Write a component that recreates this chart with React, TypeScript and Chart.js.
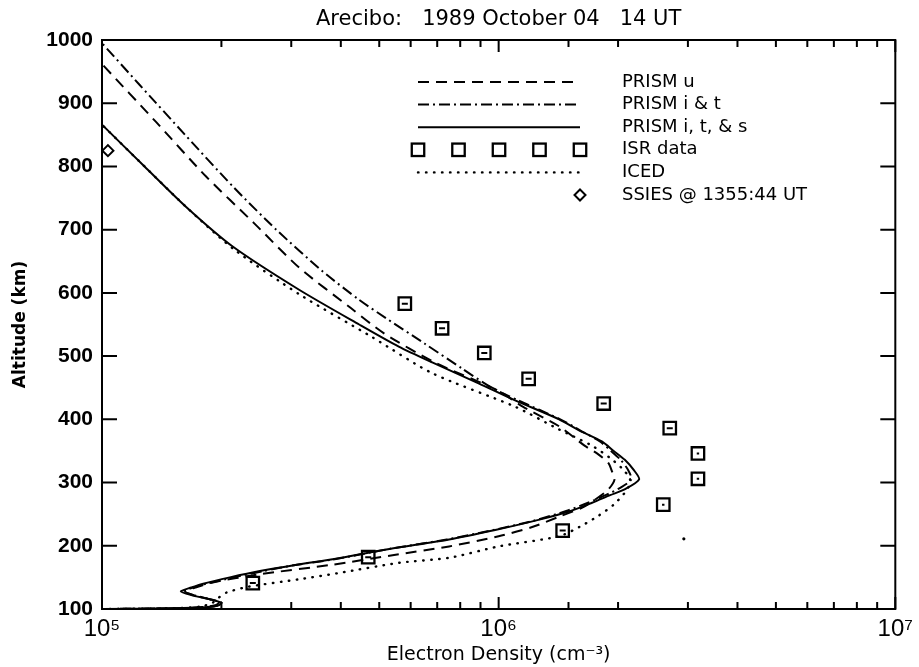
import { useEffect, useRef } from 'react';
import { Chart, registerables } from 'chart.js';

Chart.register(...registerables);

// ---- Data (altitude in km, electron density in cm^-3) ----
const prismUAltitude = [100, 101, 103, 106, 110, 116, 122, 128, 134, 142, 155, 170, 185, 199, 215, 230, 246, 260, 273, 289, 305, 318, 331, 345, 358, 389, 420, 445, 490, 536, 576, 640, 710, 784, 870, 962];
const prismUDensity = [1.0e5, 1.45e5, 1.8e5, 1.93e5, 1.97e5, 1.85e5, 1.7e5, 1.62e5, 1.72e5, 1.9e5, 2.5e5, 3.8e5, 5.4e5, 7.5e5, 1.0e6, 1.22e6, 1.42e6, 1.62e6, 1.75e6, 1.89e6, 1.96e6, 1.93e6, 1.89e6, 1.78e6, 1.65e6, 1.42e6, 1.15e6, 1.0e6, 6.9e5, 5.14e5, 4.24e5, 3.14e5, 2.42e5, 1.83e5, 1.37e5, 1.0e5];

const prismITAltitude = [100, 101, 103, 106, 110, 116, 122, 128, 134, 140, 150, 160, 170, 178, 195, 210, 225, 240, 255, 268, 280, 292, 305, 320, 336, 350, 365, 383, 400, 430, 450, 480, 520, 560, 589, 634, 700, 768, 850, 930, 995];
const prismITDensity = [1.0e5, 1.5e5, 1.85e5, 1.97e5, 2.0e5, 1.86e5, 1.7e5, 1.6e5, 1.7e5, 1.83e5, 2.15e5, 2.55e5, 3.1e5, 3.8e5, 5.3e5, 7.4e5, 9.7e5, 1.23e6, 1.48e6, 1.68e6, 1.86e6, 2.03e6, 2.16e6, 2.12e6, 2.03e6, 1.92e6, 1.8e6, 1.6e6, 1.43e6, 1.12e6, 9.6e5, 8.1e5, 6.5e5, 5.2e5, 4.45e5, 3.6e5, 2.75e5, 2.14e5, 1.62e5, 1.24e5, 1.0e5];

const prismITSAltitude = [100, 101, 103, 106, 110, 116, 122, 128, 134, 140, 150, 160, 170, 179, 195, 210, 225, 241, 255, 268, 280, 290, 305, 320, 336, 350, 365, 383, 400, 430, 457, 490, 515, 550, 605, 673, 736, 800, 866];
const prismITSDensity = [1.0e5, 1.5e5, 1.85e5, 1.97e5, 2.0e5, 1.85e5, 1.68e5, 1.58e5, 1.68e5, 1.8e5, 2.1e5, 2.5e5, 3.1e5, 3.85e5, 5.3e5, 7.5e5, 9.8e5, 1.26e6, 1.52e6, 1.72e6, 1.91e6, 2.09e6, 2.26e6, 2.19e6, 2.08e6, 1.95e6, 1.82e6, 1.59e6, 1.42e6, 1.1e6, 8.9e5, 6.8e5, 5.6e5, 4.45e5, 3.14e5, 2.14e5, 1.63e5, 1.28e5, 1.0e5];

const icedAltitude = [100, 101, 104, 110, 118, 126, 135, 147, 157, 173, 181, 199, 215, 230, 247, 265, 284, 297, 307, 322, 340, 360, 384, 420, 473, 530, 598, 670, 736, 800, 866];
const icedDensity = [1.0e5, 1.5e5, 1.78e5, 1.9e5, 1.97e5, 2.06e5, 2.33e5, 3.14e5, 3.96e5, 5.6e5, 7.5e5, 1.0e6, 1.42e6, 1.6e6, 1.78e6, 1.95e6, 2.08e6, 2.14e6, 2.14e6, 2.05e6, 1.9e6, 1.7e6, 1.42e6, 1.1e6, 6.8e5, 4.8e5, 3.14e5, 2.14e5, 1.63e5, 1.28e5, 1.0e5];

const isrAltitude = [141, 182, 224, 265, 306, 346, 386, 425, 464, 505, 544, 583];
const isrDensity = [2.4e5, 4.69e5, 1.45e6, 2.6e6, 3.18e6, 3.18e6, 2.7e6, 1.84e6, 1.19e6, 9.2e5, 7.2e5, 5.8e5];

const ssiesAltitude = [825];
const ssiesDensity = [1.035e5];

const strayAltitude = [211];
const strayDensity = [2.93e6];

const yTickValues = [100, 200, 300, 400, 500, 600, 700, 800, 900, 1000];
const titleText = 'Arecibo:   1989 October 04   14 UT';
const xTitleText = 'Electron Density (cm\u207B\u00B3)';
const yTitleText = 'Altitude (km)';
const legendOrder = ['PRISM u', 'PRISM i & t', 'PRISM i, t, & s', 'ISR data', 'ICED', 'SSIES @ 1355:44 UT'];

const SUP: Record<string, string> = { '0': '\u2070', '1': '\u00B9', '2': '\u00B2', '3': '\u00B3', '4': '\u2074', '5': '\u2075', '6': '\u2076', '7': '\u2077', '8': '\u2078', '9': '\u2079' };

const toPoints = (xs: number[], ys: number[]) => xs.map((x, i) => ({ x, y: ys[i] }));

const framePlugin = {
  id: 'frameTicksLegend',
  afterDatasetsDraw(chart: any) {
    const { ctx, chartArea: a, scales } = chart;
    const xs = scales.x;
    const ys = scales.y;
    ctx.save();
    ctx.strokeStyle = '#000';
    ctx.fillStyle = '#000';
    ctx.setLineDash([]);
    ctx.lineWidth = 2;
    ctx.strokeRect(a.left, a.top, a.right - a.left, a.bottom - a.top);
    // inward ticks
    ctx.beginPath();
    for (const t of ys.ticks) {
      const py = ys.getPixelForValue(t.value);
      ctx.moveTo(a.left, py);
      ctx.lineTo(a.left + 15, py);
      ctx.moveTo(a.right, py);
      ctx.lineTo(a.right - 15, py);
    }
    for (const t of xs.ticks) {
      const e = Math.log10(t.value);
      const major = Math.abs(e - Math.round(e)) < 1e-6;
      const len = major ? 12 : 7;
      const px = xs.getPixelForValue(t.value);
      ctx.moveTo(px, a.bottom);
      ctx.lineTo(px, a.bottom - len);
      ctx.moveTo(px, a.top);
      ctx.lineTo(px, a.top + len);
    }
    ctx.stroke();

    // legend
    const lx0 = 418;
    const lx1 = 580;
    const tx = 622;
    const ry0 = 82;
    const step = 22.6;
    ctx.font = '18px "DejaVu Sans"';
    ctx.textBaseline = 'middle';
    ctx.textAlign = 'left';
    legendOrder.forEach((label, i) => {
      const ds = chart.data.datasets.find((d: any) => d.label === label);
      if (!ds) return;
      const ry = ry0 + i * step;
      ctx.save();
      ctx.strokeStyle = '#000';
      ctx.lineWidth = ds.borderWidth;
      if (ds.legendKind === 'line') {
        ctx.setLineDash(ds.borderDash || []);
        ctx.lineCap = ds.borderCapStyle || 'butt';
        ctx.beginPath();
        ctx.moveTo(lx0, ry);
        ctx.lineTo(lx1, ry);
        ctx.stroke();
      } else if (ds.legendKind === 'squares') {
        const s = ds.pointRadius * Math.SQRT1_2;
        for (let k = 0; k < 5; k++) {
          const cx = lx0 + (k * (lx1 - lx0)) / 4;
          ctx.strokeRect(cx - s, ry - s, 2 * s, 2 * s);
        }
      } else if (ds.legendKind === 'diamond') {
        const r = ds.pointRadius;
        ctx.beginPath();
        ctx.moveTo(lx1, ry - r);
        ctx.lineTo(lx1 + r, ry);
        ctx.lineTo(lx1, ry + r);
        ctx.lineTo(lx1 - r, ry);
        ctx.closePath();
        ctx.stroke();
      }
      ctx.restore();
      ctx.fillText(label, tx, ry);
    });
    ctx.restore();
  },
};

export default function App() {
  const canvasRef = useRef<HTMLCanvasElement | null>(null);

  useEffect(() => {
    if (!canvasRef.current) return;
    const lineBase = {
      showLine: true,
      pointRadius: 0,
      borderColor: '#000',
      backgroundColor: '#000',
      borderWidth: 2,
      tension: 0.25,
      fill: false,
      legendKind: 'line',
    };
    const chart = new Chart(canvasRef.current, {
      type: 'scatter',
      data: {
        datasets: [
          { ...lineBase, label: 'PRISM u', data: toPoints(prismUDensity, prismUAltitude), borderDash: [11, 7] },
          { ...lineBase, label: 'PRISM i & t', data: toPoints(prismITDensity, prismITAltitude), borderDash: [11, 4, 2, 4] },
          { ...lineBase, label: 'PRISM i, t, & s', data: toPoints(prismITSDensity, prismITSAltitude), borderDash: [] },
          { ...lineBase, label: 'ICED', data: toPoints(icedDensity, icedAltitude), borderDash: [0.5, 7.5], borderCapStyle: 'round', borderWidth: 2.4 },
          {
            label: 'ISR data',
            legendKind: 'squares',
            data: toPoints(isrDensity, isrAltitude),
            pointStyle: 'rect',
            pointRadius: 8.8,
            borderWidth: 2.3,
            borderColor: '#000',
            backgroundColor: 'rgba(0,0,0,0)',
          },
          {
            label: 'ISR error',
            data: toPoints(isrDensity, isrAltitude),
            pointStyle: 'line',
            pointRadius: (c: any) => (c.dataIndex >= 3 && c.dataIndex <= 5 ? 1.2 : 3),
            borderWidth: 2,
            borderColor: '#000',
            backgroundColor: '#000',
          },
          {
            label: 'SSIES @ 1355:44 UT',
            legendKind: 'diamond',
            data: toPoints(ssiesDensity, ssiesAltitude),
            pointStyle: 'rectRot',
            pointRadius: 5.5,
            borderWidth: 2,
            borderColor: '#000',
            backgroundColor: '#fff',
          },
          {
            label: 'stray',
            data: toPoints(strayDensity, strayAltitude),
            pointStyle: 'circle',
            pointRadius: 1.6,
            borderWidth: 0,
            backgroundColor: '#000',
          },
        ] as any,
      },
      options: {
        animation: false,
        responsive: false,
        devicePixelRatio: 1,
        events: [],
        layout: { padding: { left: 0, right: 21, top: 0, bottom: 0 } },
        plugins: {
          legend: { display: false },
          tooltip: { enabled: false },
          title: {
            display: true,
            text: titleText,
            fullSize: false,
            color: '#000',
            font: { family: '"DejaVu Sans"', size: 21, weight: 'normal' },
            padding: { top: 7, bottom: 7.8 },
          },
        },
        scales: {
          x: {
            type: 'logarithmic',
            min: 1e5,
            max: 1e7,
            grid: { display: false, drawTicks: false },
            border: { display: false },
            afterFit: (s: any) => {
              s.height = 58;
            },
            ticks: {
              autoSkip: false,
              maxRotation: 0,
              color: '#000',
              padding: 6,
              font: { family: '"Liberation Sans"', size: 24 },
              callback: (v: any) => {
                const e = Math.log10(Number(v));
                if (Math.abs(e - Math.round(e)) > 1e-6) return '';
                return '10' + String(Math.round(e)).split('').map((c) => SUP[c]).join('');
              },
            },
            title: {
              display: true,
              text: xTitleText,
              color: '#000',
              font: { family: '"DejaVu Sans"', size: 19 },
              padding: { top: 0, bottom: 1 },
            },
          },
          y: {
            type: 'linear',
            min: 100,
            max: 1000,
            afterFit: (s: any) => {
              s.width = 102;
            },
            afterBuildTicks: (s: any) => {
              s.ticks = yTickValues.map((v) => ({ value: v }));
            },
            grid: { display: false, drawTicks: false },
            border: { display: false },
            ticks: {
              color: '#000',
              padding: 9,
              font: { family: '"Liberation Sans"', size: 21, weight: 'bold' },
              callback: (v: any) => String(v),
            },
            title: {
              display: true,
              text: yTitleText,
              color: '#000',
              font: { family: '"DejaVu Sans"', size: 17, weight: 'bold' },
              padding: { top: 10, bottom: 0 },
            },
          },
        },
      } as any,
      plugins: [framePlugin],
    });
    return () => chart.destroy();
  }, []);

  return (
    <div style={{ position: 'fixed', left: 0, top: 0, width: 919, height: 667, background: '#fff' }}>
      <canvas ref={canvasRef} width={919} height={667} style={{ display: 'block' }} />
    </div>
  );
}
